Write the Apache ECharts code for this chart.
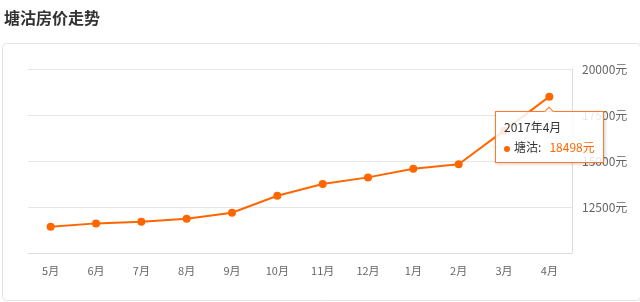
<!DOCTYPE html>
<html><head><meta charset="utf-8">
<script src="https://cdn.jsdelivr.net/npm/echarts@6/dist/echarts.min.js"></script>
<style>html,body{margin:0;padding:0;background:#fff}#c{width:640px;height:302px}</style>
</head><body><div id="c"></div>
<script>
const titleText = '塘沽房价走势';
const seriesName = '塘沽';
const categories = ['5月','6月','7月','8月','9月','10月','11月','12月','1月','2月','3月','4月'];
const tipLabels = ['2016年5月','2016年6月','2016年7月','2016年8月','2016年9月','2016年10月','2016年11月','2016年12月','2017年1月','2017年2月','2017年3月','2017年4月'];
const prices = [11430, 11610, 11700, 11860, 12190, 13110, 13750, 14110, 14580, 14820, 16650, 18498];
const yMin = 10000, yMax = 20000, yStep = 2500;
const orange = '#ff6600';
const font = '"Noto Sans CJK SC", "Noto Sans", sans-serif';

const chart = echarts.init(document.getElementById('c'), null, {renderer:'canvas'});
chart.setOption({
  animation: false,
  textStyle: {fontFamily: font},
  title: {text: titleText, left: -1, top: 5, textStyle: {fontSize: 16, fontWeight: 'bold', color: '#333', fontFamily: font}},
  graphic: [{type:'rect', left: 0, top: 41, shape:{width: 638, height: 257, r: 4}, style:{fill:'none', stroke:'#e3e3e3', lineWidth:1}, z: -1}],
  grid: {left: 28, right: 68, top: 69, bottom: 49},
  tooltip: {
    trigger: 'item', position: 'bottom', transitionDuration: 0,
    backgroundColor: 'rgba(255,255,255,0.85)', borderColor: '#ff7a2e', borderWidth: 1,
    padding: [5, 8], textStyle: {fontSize: 12, color: '#333', fontFamily: font},
    extraCssText: 'box-shadow:1px 1px 3px rgba(0,0,0,0.2);border-radius:0;line-height:20px;',
    formatter: function(p){
      return tipLabels[p.dataIndex] + '<br/>' +
        '<span style="display:inline-block;width:6px;height:6px;border-radius:3px;background:'+orange+';margin-right:4px;vertical-align:middle"></span>' +
        p.seriesName + ':&nbsp;&nbsp;&nbsp;<span style="color:'+orange+'">' + p.value + '元</span>';
    }
  },
  xAxis: {
    type: 'category', data: categories, boundaryGap: true,
    axisLine: {lineStyle: {color: '#ddd'}},
    axisTick: {alignWithLabel: true, length: 5, lineStyle: {color: '#ddd'}},
    axisLabel: {color: '#666', fontSize: 11, margin: 12}
  },
  yAxis: {
    type: 'value', position: 'right', min: yMin, max: yMax, interval: yStep,
    axisLine: {show: true, lineStyle: {color: '#ddd'}},
    axisTick: {show: false},
    splitLine: {lineStyle: {color: '#e6e6e6'}},
    axisLabel: {color: '#666', fontSize: 12, margin: 10, showMinLabel: false, formatter: function(v){ return v + '元'; }}
  },
  series: [{
    name: seriesName, type: 'line', data: prices,
    symbol: 'circle', symbolSize: 8,
    lineStyle: {color: orange, width: 2},
    itemStyle: {color: orange}
  }]
});
chart.dispatchAction({type: 'showTip', seriesIndex: 0, dataIndex: prices.length - 1});
</script></body></html>
